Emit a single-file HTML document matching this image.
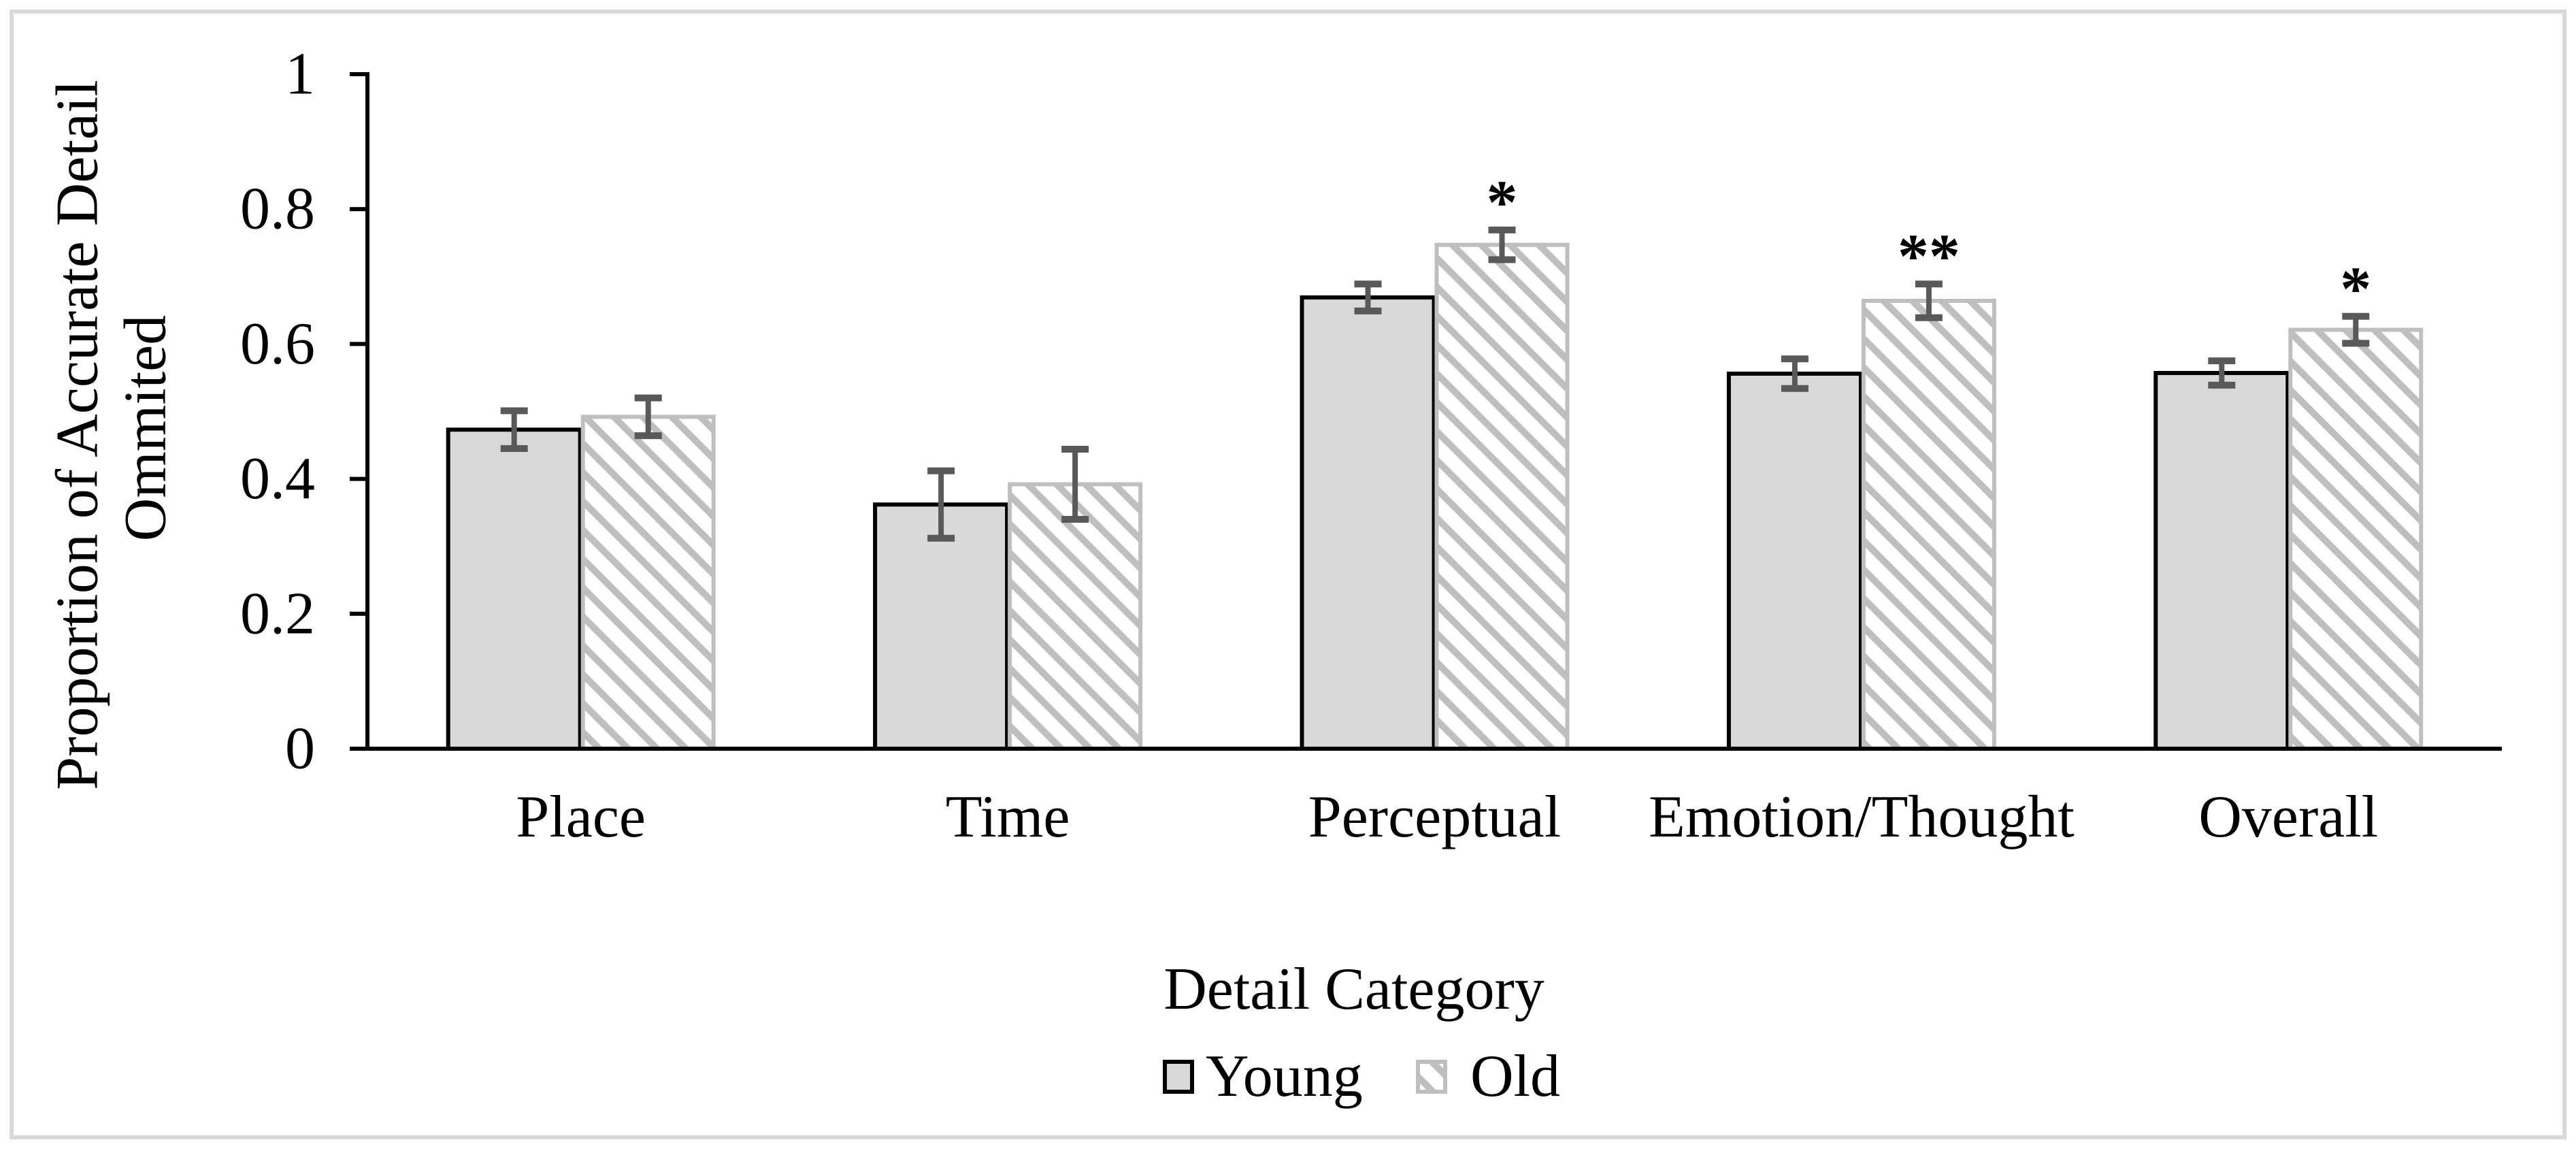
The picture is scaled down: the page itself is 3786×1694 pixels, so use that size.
<!DOCTYPE html>
<html><head><meta charset="utf-8"><style>
html,body{margin:0;padding:0;background:#fff;}
svg{display:block;font-family:"Liberation Serif","Times New Roman",serif;}
</style></head><body>
<svg id="chart" width="3786" height="1694" viewBox="0 0 3786 1694" xmlns="http://www.w3.org/2000/svg">
<defs>
<pattern id="hatch" patternUnits="userSpaceOnUse" width="30" height="30" patternTransform="rotate(45)">
<rect width="30" height="30" fill="#fff"/>
<rect x="0" y="0" width="30" height="10" fill="#bfbfbf"/>
</pattern>
</defs>
<rect x="17" y="17" width="3752" height="1654" fill="#fff" stroke="#d9d9d9" stroke-width="6"/>
<g id="plot"></g>
<text x="114" y="639" transform="rotate(-90 114 639)" font-size="88" text-anchor="middle" dominant-baseline="central">Proportion of Accurate Detail</text>
<text x="214" y="629" transform="rotate(-90 214 629)" font-size="88" text-anchor="middle" dominant-baseline="central">Ommited</text>
<text x="1990" y="1482" font-size="88" text-anchor="middle">Detail Category</text>
<g>
<g>
<rect x="1712" y="1560" width="40" height="44" fill="#d9d9d9" stroke="#000" stroke-width="6"/>
<text x="1772" y="1610" font-size="88">Young</text>
</g>
<g>
<rect x="2084" y="1560" width="40" height="44" fill="url(#hatch)" stroke="#bfbfbf" stroke-width="6"/>
<text x="2161" y="1610" font-size="88">Old</text>
</g>
</g>
</svg>
<script>
const categories = ["Place","Time","Perceptual","Emotion/Thought","Overall"];
const youngValues = [0.473,0.362,0.669,0.556,0.557];
const youngErrors = [0.028,0.05,0.02,0.022,0.018];
const oldValues = [0.492,0.392,0.747,0.664,0.621];
const oldErrors = [0.028,0.052,0.022,0.025,0.02];
const significance = ["","","*","**","*"];
const yTicks = [0,0.2,0.4,0.6,0.8,1];
const yTickLabels = ["0","0.2","0.4","0.6","0.8","1"];

const NS = "http://www.w3.org/2000/svg";
const X0 = 540, X1 = 3677, Y0 = 1100, Y1 = 109;
const yScale = v => Y0 - (v - 0) / (1 - 0) * (Y0 - Y1);
const band = (X1 - X0) / categories.length;
const xCenter = i => X0 + band * (i + 0.5);
const barW = 194;
const g = document.getElementById('plot');
function mk(tag, attrs, text){
  const e = document.createElementNS(NS, tag);
  for (const k in attrs) e.setAttribute(k, attrs[k]);
  if (text !== undefined) e.textContent = text;
  g.appendChild(e);
  return e;
}
yTicks.forEach((t, i) => {
  const y = yScale(t);
  const tk = mk('line', {x1: 514, x2: X0, y1: y, y2: y, stroke: '#000', 'stroke-width': 6});
  
  
  const lb = mk('text', {x: 463, y: y, 'font-size': 88, 'text-anchor': 'end', 'dominant-baseline': 'central'}, yTickLabels[i]);
  
  
});
function errBar(cx, v, e){
  const top = yScale(v + e), bot = yScale(v - e);
  const a = mk('line', {x1: cx, x2: cx, y1: top, y2: bot, stroke: '#595959', 'stroke-width': 8});
  
  
  [top, bot].forEach(y => {
    const c = mk('line', {x1: cx - 20, x2: cx + 20, y1: y, y2: y, stroke: '#595959', 'stroke-width': 10});
    
    
  });
  return top;
}
categories.forEach((c, i) => {
  const cx = xCenter(i);
  const yv = youngValues[i], ov = oldValues[i];
  const yb = mk('rect', {x: cx - barW - 1, y: yScale(yv), width: barW, height: Y0 - yScale(yv), fill: '#d9d9d9', stroke: '#000', 'stroke-width': 6});
  
  
  const ob = mk('rect', {x: cx + 3, y: yScale(ov), width: barW - 2, height: Y0 - yScale(ov), fill: 'url(#hatch)', stroke: '#bfbfbf', 'stroke-width': 6});
  
  
  errBar(cx - barW / 2 - 1, yv, youngErrors[i]);
  const top = errBar(cx + barW / 2 + 2, ov, oldErrors[i]);
  if (significance[i]) {
    const s = mk('text', {x: cx + barW / 2 + 2, y: top - 10, 'font-size': 92, 'font-weight': 'bold', 'text-anchor': 'middle'}, significance[i]);
    
    
  }
  const l = mk('text', {x: cx, y: 1229, 'font-size': 88, 'text-anchor': 'middle'}, c);
  
  
});
const ya = mk('line', {x1: X0, x2: X0, y1: Y1 - 3, y2: Y0 + 3, stroke: '#000', 'stroke-width': 6});


const xa = mk('line', {x1: 514, x2: X1, y1: Y0, y2: Y0, stroke: '#000', 'stroke-width': 6});


</script>
</body></html>
